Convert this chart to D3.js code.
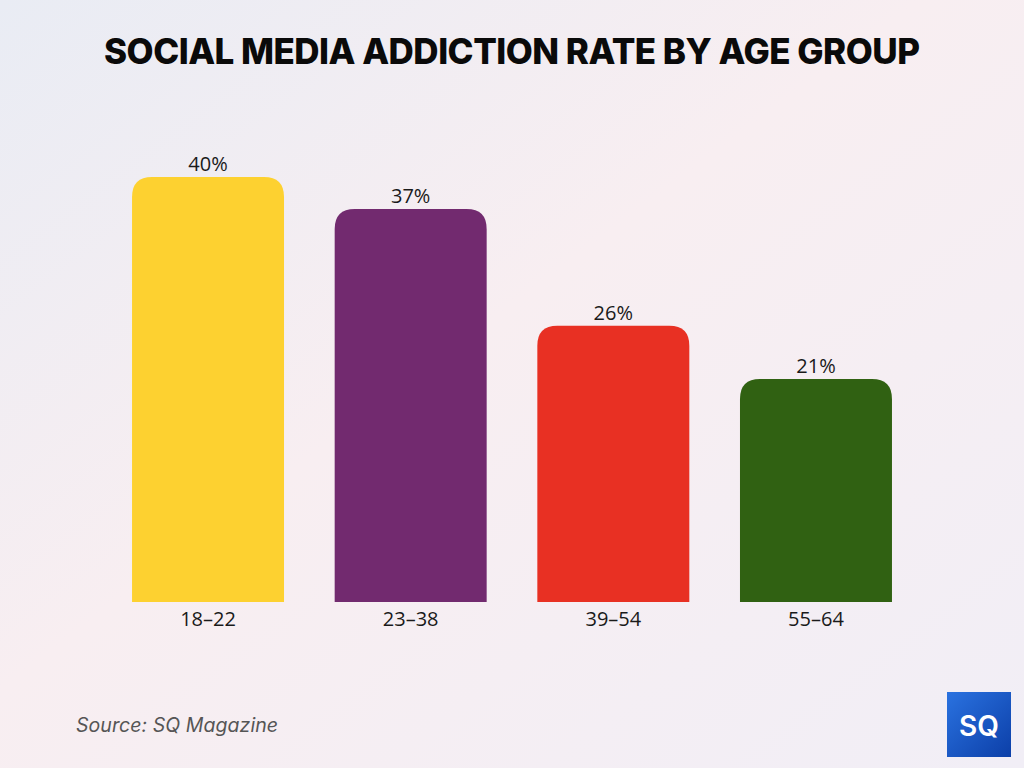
<!DOCTYPE html>
<html><head><meta charset="utf-8">
<script src="https://cdn.jsdelivr.net/npm/d3@7"></script>
<style>html,body{margin:0;padding:0;}svg{display:block;}</style>
</head><body>
<script>
const categories = ["18-22", "23-38", "39-54", "55-64"];
const values = [40, 37, 26, 21];
const colors = ["#FDD130", "#722A6F", "#E83023", "#306112"];
const title = "SOCIAL MEDIA ADDICTION RATE BY AGE GROUP";
const source = "Source: SQ Magazine";

const W = 1024, H = 768;
const svg = d3.select("body").append("svg").attr("width", W).attr("height", H);
const defs = svg.append("defs");
const bg = defs.append("linearGradient").attr("id","bg").attr("x1","0").attr("y1","0").attr("x2","1").attr("y2","1");
bg.append("stop").attr("offset","0").attr("stop-color","#e9ecf4");
bg.append("stop").attr("offset","0.45").attr("stop-color","#f8eef1");
bg.append("stop").attr("offset","1").attr("stop-color","#f1eef6");
svg.append("rect").attr("width",W).attr("height",H).attr("fill","url(#bg)");

svg.append("text").attr("x", 512).attr("y", 64).attr("text-anchor","middle")
  .attr("font-family","Inter, 'DejaVu Sans', sans-serif").attr("font-weight", 800)
  .attr("font-size", 35).attr("fill","#0a0a0a").attr("textLength", 816).attr("lengthAdjust","spacing")
  .text(title);

const x = d3.scaleBand().domain(categories).range([106.7, 917.3]).paddingInner(0.25).paddingOuter(0.125);
const y = d3.scaleLinear().domain([0, 40]).range([602, 177]);
const r = 20;

function barPath(x0, w, yt, yb) {
  const rr = Math.min(r, (yb-yt));
  return `M${x0},${yb}V${yt+rr}Q${x0},${yt} ${x0+rr},${yt}H${x0+w-rr}Q${x0+w},${yt} ${x0+w},${yt+rr}V${yb}Z`;
}

const g = svg.append("g");
g.selectAll("path.bar").data(values).join("path").attr("class","bar")
  .attr("d", (d,i) => barPath(x(categories[i]), x.bandwidth(), y(d), y(0)))
  .attr("fill", (d,i) => colors[i]);

g.selectAll("text.val").data(values).join("text").attr("class","val")
  .attr("x", (d,i) => x(categories[i]) + x.bandwidth()/2)
  .attr("y", d => y(d) - 6)
  .attr("text-anchor","middle")
  .attr("font-family","'Open Sans', Lato, sans-serif").attr("font-size", 20).attr("fill","#1a1a1a")
  .text(d => d + "%");

const xAxis = d3.axisBottom(x).tickSize(0).tickPadding(10).tickFormat(d => d.replace("-", "\u2013"));
const ax = svg.append("g").attr("transform", `translate(0,${y(0)})`).call(xAxis);
ax.select(".domain").remove();
ax.selectAll("text").attr("font-family","'Open Sans', Lato, sans-serif").attr("font-size", 20).attr("fill","#1a1a1a");

svg.append("text").attr("x", 76).attr("y", 732)
  .attr("font-family","Inter, 'Open Sans', sans-serif").attr("font-style","italic")
  .attr("font-size", 19.5).attr("fill","#555").attr("textLength", 202).text(source);

const lg = defs.append("linearGradient").attr("id","logo").attr("x1","0").attr("y1","0").attr("x2","1").attr("y2","1");
lg.append("stop").attr("offset","0").attr("stop-color","#2a72e0");
lg.append("stop").attr("offset","1").attr("stop-color","#0c3fa8");
svg.append("rect").attr("x",947).attr("y",692).attr("width",64).attr("height",65).attr("fill","url(#logo)");
svg.append("text").attr("x",979).attr("y",736).attr("text-anchor","middle")
  .attr("font-family","Inter, 'DejaVu Sans', sans-serif").attr("font-weight",600)
  .attr("font-size",28).attr("fill","#fff").text("SQ");
</script>
</body></html>
